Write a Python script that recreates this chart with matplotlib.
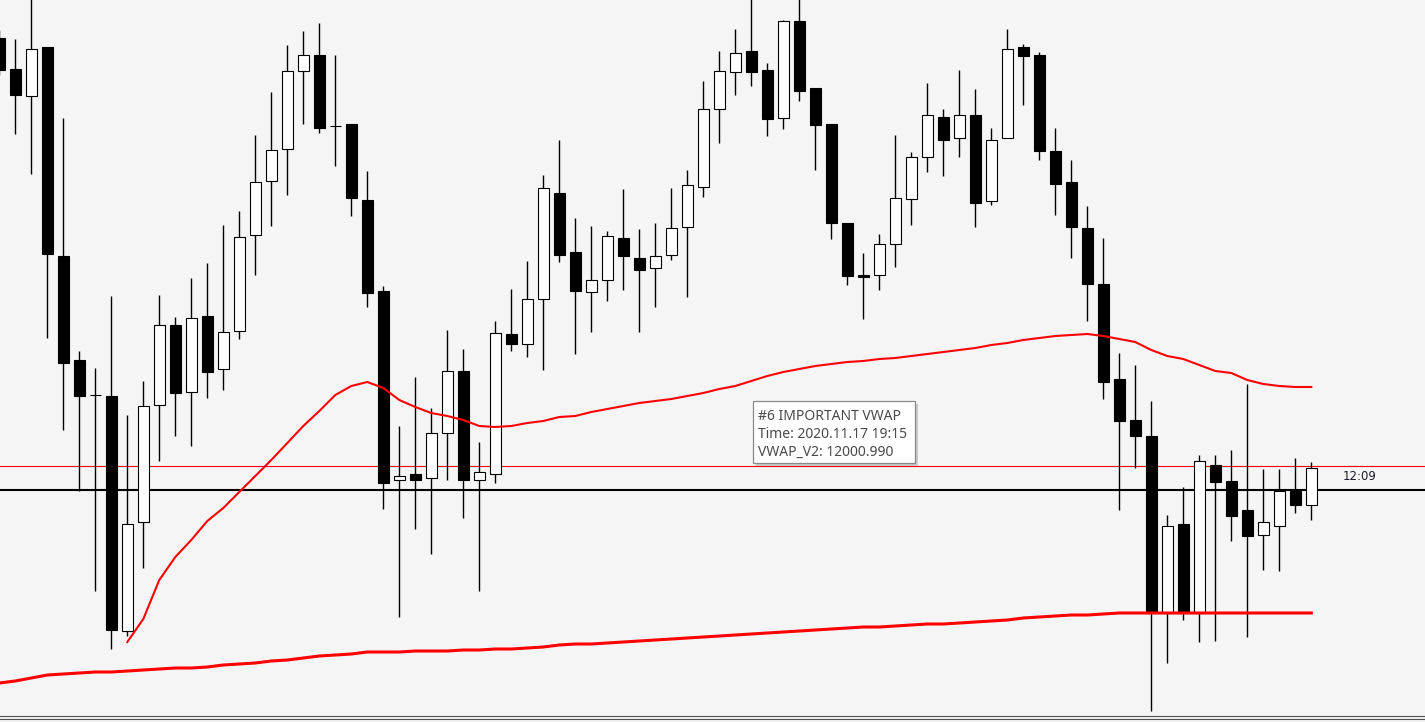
import numpy as np
import matplotlib.pyplot as plt
from matplotlib.patches import Rectangle

W, H = 1425, 722

open_px = [38, 69, 96, 47, 256, 360, 395, 396, 631, 522, 405, 325, 392, 316, 369, 331,
           235, 181, 149, 71, 55, 126, 124, 200, 291, 480, 474, 478, 433, 371, 480, 474,
           334, 344, 299, 193, 252, 292, 280, 238, 258, 268, 255, 227, 187, 109, 72, 51,
           70, 118, 21, 88, 124, 223, 275, 275, 244, 199, 157, 117, 138, 115, 201, 138,
           47, 55, 151, 182, 228, 284, 379, 420, 436, 613, 524, 613, 465, 481, 510, 535,
           526, 491, 505]
close_px = [70, 95, 49, 254, 363, 396, 395, 630, 524, 406, 325, 393, 318, 372, 332, 237,
            182, 150, 71, 55, 128, 126, 198, 293, 483, 476, 480, 433, 371, 480, 472, 333,
            344, 299, 188, 255, 291, 280, 236, 256, 270, 256, 228, 185, 109, 71, 53, 72,
            119, 21, 91, 125, 223, 276, 277, 244, 198, 157, 115, 140, 115, 203, 140, 49,
            56, 151, 184, 227, 284, 382, 421, 436, 613, 526, 613, 461, 482, 516, 536, 522,
            491, 505, 468]
high_px = [30, 39, -5, 47, 118, 351, 368, 296, 415, 381, 295, 317, 278, 263, 225, 211,
           135, 92, 45, 31, 23, 55, 124, 171, 286, 426, 377, 408, 330, 349, 442, 321,
           289, 261, 175, 140, 218, 226, 231, 189, 229, 223, 188, 170, 81, 51, 29, -5,
           63, 20, -5, 88, 124, 223, 253, 234, 135, 152, 83, 109, 70, 89, 128, 29,
           44, 52, 128, 160, 206, 238, 353, 365, 401, 515, 487, 455, 455, 450, 384, 469,
           469, 458, 462]
low_px = [75, 134, 174, 338, 430, 491, 591, 649, 636, 568, 461, 436, 446, 398, 390, 339,
          275, 226, 195, 124, 133, 166, 216, 307, 509, 617, 529, 554, 480, 518, 591, 483,
          351, 357, 370, 262, 354, 332, 301, 290, 332, 307, 260, 297, 197, 143, 95, 86,
          136, 129, 101, 170, 239, 285, 319, 290, 267, 225, 172, 176, 157, 227, 205, 138,
          105, 160, 215, 258, 321, 399, 510, 468, 711, 663, 620, 642, 641, 541, 637, 570,
          571, 513, 520]

# anchored vwap starting at bar 8
vwap1_start = 8
vwap1_px = [642, 619, 580, 557, 540, 521, 508, 492, 476, 460, 443, 426, 411, 395, 386,
            382, 388, 400, 407, 413, 416, 420, 426, 427, 426, 423, 421, 417, 416, 412,
            409, 406, 403, 401, 399, 396, 393, 389, 386, 381, 376, 372, 369, 366, 364,
            362, 361, 359, 358, 356, 354, 352, 350, 348, 345, 343, 340, 338, 336, 335,
            334, 336, 339, 342, 350, 356, 359, 365, 371, 373, 380, 384, 386, 387, 387]
# long vwap over every bar
vwap2_px = [683, 681, 678, 675, 674, 673, 672, 672, 671, 670, 669, 668, 668, 667, 665,
            664, 663, 661, 660, 658, 656, 655, 654, 652, 652, 652, 651, 651, 651, 650,
            650, 649, 649, 648, 647, 645, 644, 644, 643, 642, 641, 640, 639, 638, 637,
            636, 635, 634, 633, 632, 631, 630, 629, 628, 627, 627, 626, 625, 624, 624,
            623, 622, 621, 620, 618, 617, 616, 615, 615, 614, 613, 613, 613, 613, 613,
            613, 613, 613, 613, 613, 613, 613, 613]

vwap_level_px = 466   # 12000.990
bid_px = 490
timer = "12:09"
tip_lines = ["#6 IMPORTANT VWAP", "Time: 2020.11.17 19:15", "VWAP_V2: 12000.990"]


def to_price(v):
    # 0.5 point per screen pixel, row 466 = 12000.990
    return 12000.99 + (466 - np.asarray(v, dtype=float)) * 0.5


o = to_price(open_px)
c = to_price(close_px)
hi = to_price(high_px)
lo = to_price(low_px)
x = np.arange(len(o))

bg = '#f5f5f5'
fig = plt.figure(figsize=(W / 100, H / 100), dpi=100, facecolor=bg)
ax = fig.add_axes([0, 0, 1, 1])
ax.set_axis_off()

# bars are 16 px apart, first one centred just left of the edge
ax.set_xlim(0.7 / 16, (W + 0.7) / 16)
ax.set_ylim(to_price(H), to_price(0))

ax.axhline(to_price(vwap_level_px), color='#ff0000', lw=0.8, zorder=1)
ax.axhline(to_price(bid_px), color='black', lw=1.5, zorder=1)

ax.vlines(x, lo, hi, color='black', lw=1.0, zorder=2)
up = c >= o
face = np.where(up, 'white', 'black')
ax.bar(x, np.abs(c - o), bottom=np.minimum(o, c), width=0.66, color=face,
       edgecolor='black', linewidth=0.8, zorder=3)

x1 = np.arange(vwap1_start, vwap1_start + len(vwap1_px))
ax.plot(x1, to_price(vwap1_px), color='#ff0000', lw=1.5, zorder=4)
ax.plot(x, to_price(vwap2_px), color='#ff0000', lw=2.2, zorder=4)

# bottom frame
ax.axhline(to_price(715.5), color='#505050', lw=0.8)
ax.axhline(to_price(718.5), color='#505050', lw=0.8)


def fx(px):
    return px / W


def fy(py):
    return 1 - py / H


# countdown label
fig.text(fx(1343), fy(476), timer, fontsize=8.5, color='#1a1a2a',
         family='DejaVu Sans', va='center', ha='left')

# tooltip
bx0, bx1, by0, by1 = 753, 915, 401, 463
fig.patches.append(Rectangle((fx(bx0 + 3), fy(by1 + 3)), fx(bx1 - bx0), (by1 - by0) / H,
                             transform=fig.transFigure, facecolor='#b8b8b8',
                             edgecolor='none', alpha=0.7, zorder=5))
fig.patches.append(Rectangle((fx(bx0), fy(by1)), fx(bx1 - bx0), (by1 - by0) / H,
                             transform=fig.transFigure, facecolor='white',
                             edgecolor='#8a8a8a', lw=0.9, zorder=6))
for k, line in enumerate(tip_lines):
    fig.text(fx(758), fy(417 + 17.5 * k), line, fontsize=10, color='#4a4a4a',
             family='Noto Sans', va='center', ha='left', zorder=7)

fig.savefig('out.png', dpi=100, facecolor=bg)
